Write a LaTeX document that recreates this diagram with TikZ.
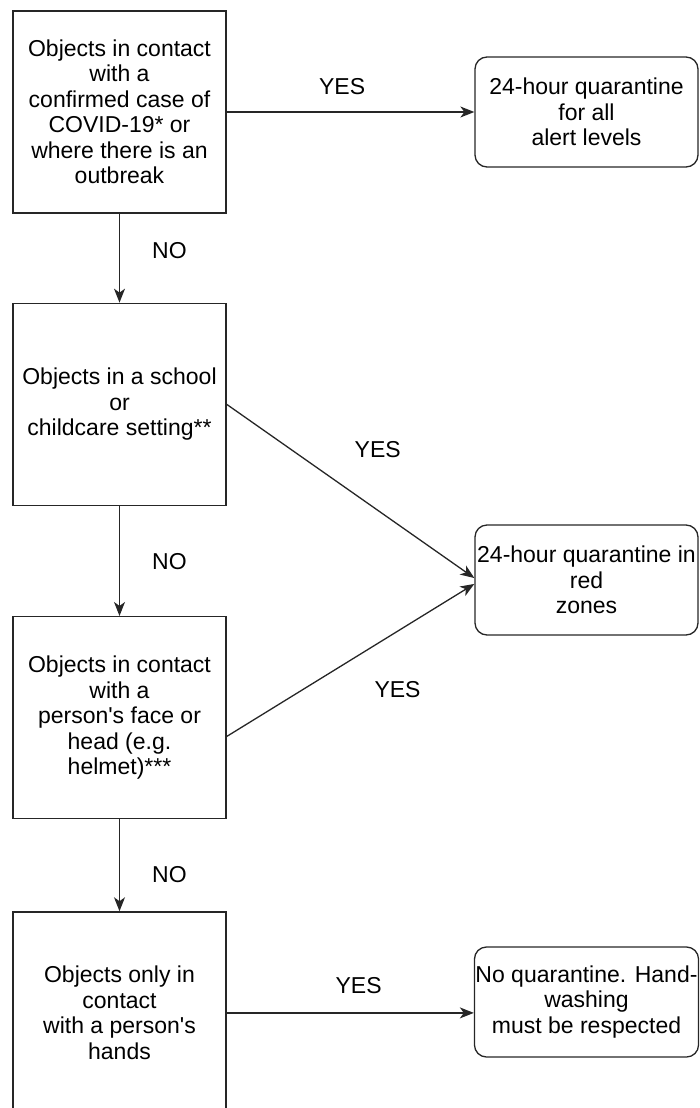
\documentclass[tikz,border=0pt]{standalone}
\usepackage{fontspec}
\setmainfont{Liberation Sans}
\usetikzlibrary{positioning, arrows.meta}

\begin{document}
\begin{tikzpicture}[
    x=1pt, y=-1pt,
    font=\fontsize{23}{25.5}\selectfont,
    check/.style={draw=black!85, line width=1.3pt, rectangle, minimum width=213pt, minimum height=202pt, align=center, inner sep=1pt},
    outcome/.style={draw=black!85, line width=1.3pt, rectangle, rounded corners=12pt, minimum width=223pt, minimum height=110pt, align=center, inner sep=1pt},
    arrow/.style={-{Stealth[length=14pt, width=11pt, inset=4pt]}, line width=1.3pt, draw=black!85},
    answer/.style={inner sep=0pt}
]

\clip (0,0) rectangle (699,1108);

% Left Side: the questions
\node[check] (q1) at (119.5,112) {Objects in contact\\with a\\confirmed case of\\COVID-19* or\\where there is an\\outbreak};
\node[check, below=89pt of q1] (q2) {Objects in a school\\or\\childcare setting**};
\node[check, below=110pt of q2] (q3) {Objects in contact\\with a\\person\textquotesingle s face or\\head (e.g.\\helmet)***};
\node[check, below=92pt of q3] (q4) {Objects only in\\contact\\with a person\textquotesingle s\\hands};

% Right Side: the outcomes
\node[outcome] (r1) at (586.5,112) {24-hour quarantine\\for all\\alert levels};
\node[outcome] (r2) at (586.5,580) {24-hour quarantine in\\red\\zones};
\node[outcome] (r3) at (586.5,1002) {No quarantine. Hand-\\washing\\must be respected};

\draw[arrow] (q1) -- node[answer, pos=0.466, above=17pt] {YES} (r1);
\draw[arrow] (q1) -- node[answer, pos=0.41, right=32pt] {NO} (q2);
\draw[arrow] (q2.east) -- node[answer, pos=0.61, above=52pt] {YES} (r2.179);
\draw[arrow] (q2) -- node[answer, pos=0.51, right=32pt] {NO} (q3);
\draw[arrow] (q3.350) -- node[answer, pos=0.69, below=50pt] {YES} (r2.182);
\draw[arrow] (q3) -- node[answer, pos=0.6, right=32pt] {NO} (q4);
\draw[arrow] (q4.east) -- node[answer, pos=0.534, above=19pt] {YES} (q4.east -| r3.west);

\end{tikzpicture}
\end{document}
